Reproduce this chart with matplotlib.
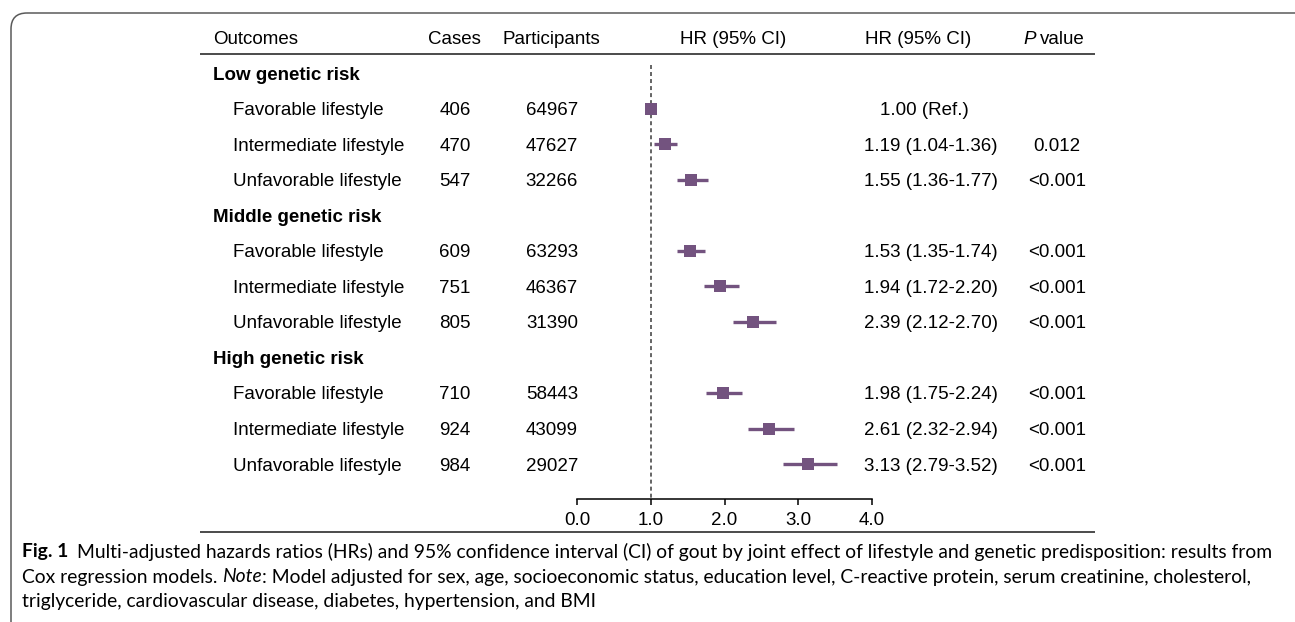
import matplotlib
matplotlib.use("Agg")
import matplotlib.pyplot as plt
from matplotlib.patches import FancyBboxPatch

# ---------------- data ----------------
groups = ["Low genetic risk", "Middle genetic risk", "High genetic risk"]
lifestyles = ["Favorable lifestyle", "Intermediate lifestyle", "Unfavorable lifestyle"]
cases = [406, 470, 547, 609, 751, 805, 710, 924, 984]
participants = [64967, 47627, 32266, 63293, 46367, 31390, 58443, 43099, 29027]
hr = [1.00, 1.19, 1.55, 1.53, 1.94, 2.39, 1.98, 2.61, 3.13]
lo = [1.00, 1.04, 1.36, 1.35, 1.72, 2.12, 1.75, 2.32, 2.79]
hi = [1.00, 1.36, 1.77, 1.74, 2.20, 2.70, 2.24, 2.94, 3.52]
hr_text = ["1.00 (Ref.)", "1.19 (1.04-1.36)", "1.55 (1.36-1.77)", "1.53 (1.35-1.74)",
           "1.94 (1.72-2.20)", "2.39 (2.12-2.70)", "1.98 (1.75-2.24)",
           "2.61 (2.32-2.94)", "3.13 (2.79-3.52)"]
p_text = ["", "0.012", "<0.001", "<0.001", "<0.001", "<0.001", "<0.001", "<0.001", "<0.001"]
xticks = [0.0, 1.0, 2.0, 3.0, 4.0]
xticklabels = ["0.0", "1.0", "2.0", "3.0", "4.0"]
ref_line = 1.0

caption1_bold = "Fig. 1"
caption1 = "Multi-adjusted hazards ratios (HRs) and 95% confidence interval (CI) of gout by joint effect of lifestyle and genetic predisposition: results from"
caption2a = "Cox regression models. "
caption2_it = "Note"
caption2b = ": Model adjusted for sex, age, socioeconomic status, education level, C-reactive protein, serum creatinine, cholesterol,"
caption3 = "triglyceride, cardiovascular disease, diabetes, hypertension, and BMI"

# ---------------- layout ----------------
W, H = 1295, 622
fig = plt.figure(figsize=(W / 100, H / 100), dpi=100)
bg = fig.add_axes([0, 0, 1, 1])
bg.set_xlim(0, W)
bg.set_ylim(H, 0)
bg.axis("off")

TF = "Liberation Sans"
FS = 13.5
purple = "#73537f"

# border
box = FancyBboxPatch((11, 13), 1284 + 20, 700, boxstyle="round,pad=0,rounding_size=16",
                     fc="none", ec="#5a5a5a", lw=1.1, transform=bg.transData, clip_on=False)
bg.add_patch(box)

# rows pixel mapping
y0, dy = 73.0, 35.55
TY = 2.0  # text vertical offset
def row_y(i):
    return y0 + dy * i

fig.canvas.draw()
r = fig.canvas.get_renderer()

# header
hy = 37 + TY
bg.text(213, hy, "Outcomes", fontsize=FS, family=TF, ha="left", va="center")
bg.text(454, hy, "Cases", fontsize=FS, family=TF, ha="center", va="center")
bg.text(551, hy, "Participants", fontsize=FS, family=TF, ha="center", va="center")
bg.text(733, hy, "HR (95% CI)", fontsize=FS, family=TF, ha="center", va="center")
bg.text(918, hy, "HR (95% CI)", fontsize=FS, family=TF, ha="center", va="center")
tv = bg.text(1085, hy, "value", fontsize=FS, family=TF, ha="right", va="center")
fig.canvas.draw()
ev = tv.get_window_extent(r)
bg.text(ev.x0 - 4, hy, "P", fontsize=FS, family=TF, style="italic", ha="right", va="center")

bg.plot([200, 1095], [54, 54], color="#1a1a1a", lw=1.1, solid_capstyle="butt")
bg.plot([200, 1095], [532, 532], color="#1a1a1a", lw=1.1, solid_capstyle="butt")

# table body
k = 0
for g, gname in enumerate(groups):
    gi = g * 4
    bg.text(213, row_y(gi) + TY, gname, fontsize=FS, family=TF, weight="bold", ha="left", va="center")
    for j, ls in enumerate(lifestyles):
        yy = row_y(gi + 1 + j) + TY
        bg.text(233, yy, ls, fontsize=FS, family=TF, ha="left", va="center")
        bg.text(455, yy, str(cases[k]), fontsize=FS, family=TF, ha="center", va="center")
        bg.text(552, yy, str(participants[k]), fontsize=FS, family=TF, ha="center", va="center")
        if "Ref" in hr_text[k]:
            bg.text(924, yy, hr_text[k], fontsize=FS, family=TF, ha="center", va="center")
        else:
            bg.text(864, yy, hr_text[k], fontsize=FS, family=TF, ha="left", va="center")
        bg.text(1057, yy, p_text[k], fontsize=FS, family=TF, ha="center", va="center")
        k += 1

# forest axes
ax_l, ax_r = 577, 872
ax_t, ax_b = 54, 499
ax = fig.add_axes([ax_l / W, 1 - ax_b / H, (ax_r - ax_l) / W, (ax_b - ax_t) / H])
ax.patch.set_alpha(0)
ax.set_xlim(0, 4)
ax.set_ylim((ax_b - y0) / dy, (ax_t - y0) / dy)
for s in ["top", "right", "left"]:
    ax.spines[s].set_visible(False)
ax.spines["bottom"].set_linewidth(1.1)
ax.set_yticks([])
ax.set_xticks(xticks)
ax.set_xticklabels(xticklabels, family=TF, fontsize=FS)
ax.tick_params(axis="x", direction="out", length=4, width=1.1, pad=5.5)

ypos = []
for g in range(3):
    for j in range(3):
        ypos.append(g * 4 + 1 + j)
ax.vlines(ref_line, (65 - y0) / dy, (ax_b - y0) / dy, colors="#3a3a3a", lw=1.1,
          linestyles=(0, (2.6, 2.0)), zorder=1)
xerr = [[h - l for h, l in zip(hr, lo)], [u - h for h, u in zip(hr, hi)]]
ax.errorbar(hr, ypos, xerr=xerr, fmt="s", color=purple, ecolor=purple, elinewidth=2.4,
            capsize=0, markersize=8.8, markeredgewidth=0, zorder=3)

# caption
CF = "Lato"
CS = 13.9
cy1, cy2, cy3 = 552, 577, 602
t1 = bg.text(22, cy1, caption1_bold, fontsize=CS, family=CF, weight="bold", ha="left", va="center")
fig.canvas.draw()
e1 = t1.get_window_extent(r)
bg.text(e1.x1 + 9, cy1, caption1, fontsize=CS, family=CF, ha="left", va="center")
t2 = bg.text(22, cy2, caption2a, fontsize=CS, family=CF, ha="left", va="center")
fig.canvas.draw()
e2 = t2.get_window_extent(r)
t2i = bg.text(e2.x1, cy2, caption2_it, fontsize=CS, family=CF, style="italic", ha="left", va="center")
fig.canvas.draw()
e2i = t2i.get_window_extent(r)
bg.text(e2i.x1, cy2, caption2b, fontsize=CS, family=CF, ha="left", va="center")
bg.text(22, cy3, caption3, fontsize=CS, family=CF, ha="left", va="center")

fig.savefig("out.png", dpi=100)
